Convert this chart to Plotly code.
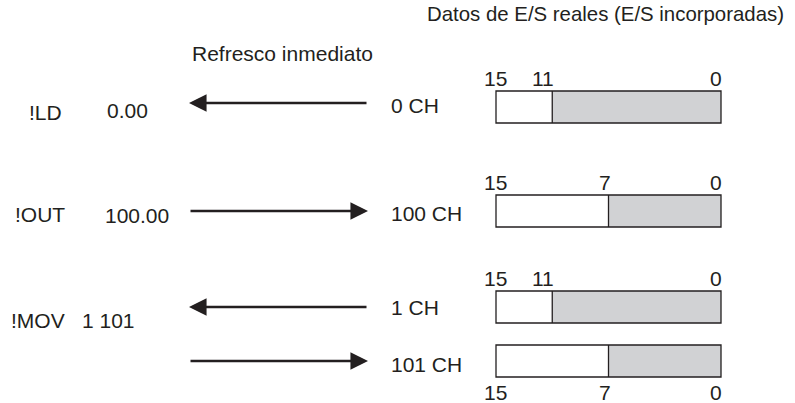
import plotly.graph_objects as go

# instructions on the left, one per block
instructions = ["!LD", "!OUT", "!MOV"]
operands = ["0.00", "100.00", "1 101"]

# one entry per arrow / bit box
channels = ["0 CH", "100 CH", "1 CH", "101 CH"]
directions = ["in", "out", "in", "out"]      # in = I/O -> instruction
boundary_bits = [11, 7, 11, 7]
bit_labels_pos = ["above", "above", "above", "below"]

title_text = "Datos de E/S reales (E/S incorporadas)"
refresh_text = "Refresco inmediato"

# layout (pixel space, y downward)
W, H = 795, 403
FONT = dict(family="Liberation Sans, Arial, sans-serif", size=21, color="#231f20")
INK = "#231f20"
GRAY = "#d1d2d4"

instr_y = [112.5, 214, 320.5]
instr_x = [27, 13, 9]
oper_x = [105, 103, 80]
oper_y = [110.5, 215.5, 320.5]

arrow_y = [103, 211, 307, 361]
chan_y = [105.5, 213.5, 307, 364]
box_top = [91, 195, 291, 345]
BOX_H = 32
BOX_L, BOX_R = 496, 721
ARROW_L, ARROW_R = 189, 368
CHAN_X = 389


def bit_x(bit):
    # 16-bit word drawn from bit 15 (left) to bit 0 (right)
    return BOX_L + (15 - bit) / 16 * (BOX_R - BOX_L)


fig = go.Figure()
shapes = []
annotations = []


def text(x, y, s, xanchor="left", size=21):
    annotations.append(dict(x=x, y=y, xref="x", yref="y", text=s, showarrow=False,
                            xanchor=xanchor, yanchor="middle", font={**FONT, "size": size}))


text(786, 13.5, title_text, "right", size=20.4)
text(190, 53.5, refresh_text)

for i, ins in enumerate(instructions):
    text(instr_x[i], instr_y[i], ins)
    text(oper_x[i], oper_y[i], operands[i])

for i, ch in enumerate(channels):
    y = arrow_y[i]
    if directions[i] == "in":
        tip, tail = ARROW_L, ARROW_R
    else:
        tip, tail = ARROW_R, ARROW_L
    annotations.append(dict(x=tip, y=y, ax=tail, ay=y, xref="x", yref="y", axref="x", ayref="y",
                            text="", showarrow=True, arrowhead=2, arrowsize=1.35, arrowwidth=2.6,
                            arrowcolor=INK, standoff=0, startstandoff=0))
    text(CHAN_X, chan_y[i], ch)

    # bit box
    t = box_top[i]
    b = t + BOX_H
    sx = bit_x(boundary_bits[i])
    shapes.append(dict(type="rect", x0=sx, x1=BOX_R, y0=t, y1=b, xref="x", yref="y",
                       fillcolor=GRAY, line=dict(width=0)))
    shapes.append(dict(type="rect", x0=BOX_L, x1=BOX_R, y0=t, y1=b, xref="x", yref="y",
                       fillcolor="rgba(0,0,0,0)", line=dict(color=INK, width=1.3)))
    shapes.append(dict(type="line", x0=sx, x1=sx, y0=t, y1=b, xref="x", yref="y",
                       line=dict(color=INK, width=1.3)))

    ly = t - 13 if bit_labels_pos[i] == "above" else b + 15
    text(BOX_L - 1, ly, "15", "center")
    text(sx + 4, ly, str(boundary_bits[i]), "right")
    text(BOX_R + 3, ly, "0", "right")

fig.update_layout(
    width=W, height=H,
    margin=dict(l=0, r=0, t=0, b=0),
    paper_bgcolor="white", plot_bgcolor="white",
    shapes=shapes, annotations=annotations,
    showlegend=False,
)
fig.update_xaxes(range=[0, W], visible=False, fixedrange=True)
fig.update_yaxes(range=[H, 0], visible=False, fixedrange=True)

# drop the default page margin so the figure sits at the window's corner
fig.write_html("out.html", config={"displayModeBar": False},
               post_script="document.body.style.margin='0';document.body.style.overflow='hidden';")
